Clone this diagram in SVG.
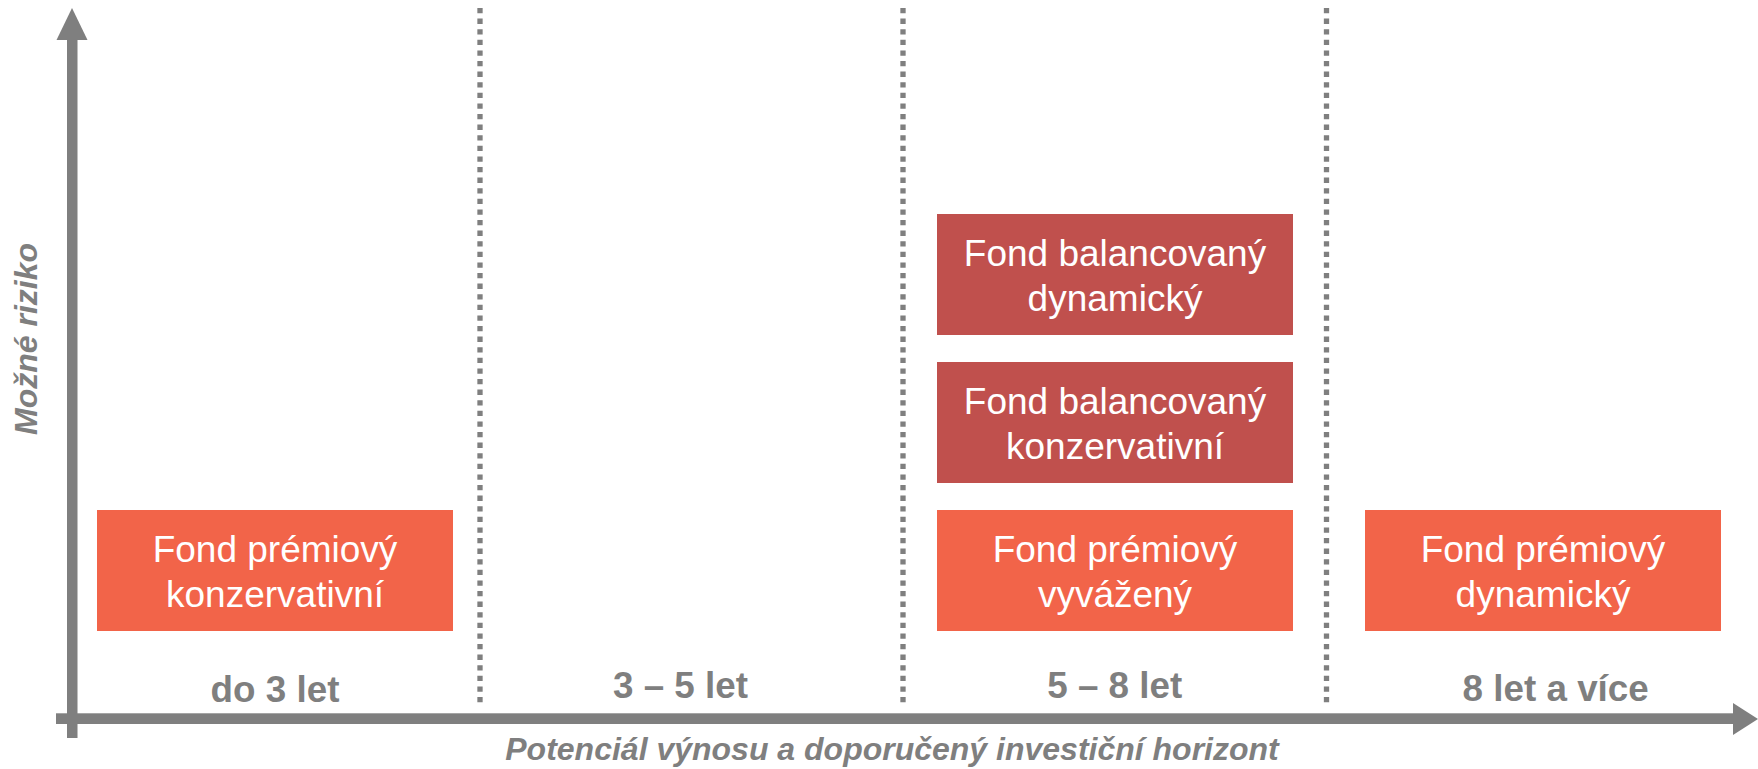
<svg xmlns="http://www.w3.org/2000/svg" width="1758" height="769" viewBox="0 0 1758 769">
<style>
.box-o{fill:#F26449}
.box-r{fill:#C0504D}
.bt{font-family:"Liberation Sans",Arial,sans-serif;font-size:37px;fill:#FFFFFF;text-anchor:middle}
.lbl{font-family:"Liberation Sans",Arial,sans-serif;font-size:36.8px;font-weight:bold;fill:#7F7F7F;text-anchor:middle}
.ax{font-family:"Liberation Sans",Arial,sans-serif;font-weight:bold;font-style:italic;fill:#7F7F7F;text-anchor:middle}
.dot{stroke:#7F7F7F;stroke-width:5.3;stroke-dasharray:5.3 5.3;fill:none}
.axis{fill:#7F7F7F}
</style>
<rect width="1758" height="769" fill="#FFFFFF"/>
<g id="connectors">
<line class="dot" x1="480" y1="8" x2="480" y2="704"/>
<line class="dot" x1="903" y1="8" x2="903" y2="704"/>
<line class="dot" x1="1326.5" y1="8" x2="1326.5" y2="704"/>
<rect class="axis" x="67" y="38" width="10.5" height="700"/>
<polygon class="axis" points="72,8 87.5,40 56.5,40"/>
<rect class="axis" x="56" y="713.3" width="1679" height="10.7"/>
<polygon class="axis" points="1733,703 1758,719 1733,735"/>
</g>
<g id="label-y"><text class="ax" font-size="32" transform="translate(37,339) rotate(-90)">Možné riziko</text></g>
<g id="label-x"><text class="ax" font-size="32" x="892" y="760">Potenciál výnosu a doporučený investiční horizont</text></g>
<g id="col1"><text class="lbl" x="275" y="701.7">do 3 let</text></g>
<g id="col2"><text class="lbl" x="680.5" y="698.3">3 – 5 let</text></g>
<g id="col3"><text class="lbl" x="1114.7" y="698.3">5 – 8 let</text></g>
<g id="col4"><text class="lbl" x="1555.7" y="701">8 let a více</text></g>
<g id="fond-premiovy-konzervativni">
<rect class="box-o" x="97" y="510" width="356" height="121"/>
<text class="bt" x="275" y="561.7">Fond prémiový</text>
<text class="bt" x="275" y="606.5">konzervativní</text>
</g>
<g id="fond-balancovany-dynamicky">
<rect class="box-r" x="937" y="214" width="356" height="121"/>
<text class="bt" x="1115" y="265.7">Fond balancovaný</text>
<text class="bt" x="1115" y="310.5">dynamický</text>
</g>
<g id="fond-balancovany-konzervativni">
<rect class="box-r" x="937" y="362" width="356" height="121"/>
<text class="bt" x="1115" y="413.7">Fond balancovaný</text>
<text class="bt" x="1115" y="458.5">konzervativní</text>
</g>
<g id="fond-premiovy-vyvazeny">
<rect class="box-o" x="937" y="510" width="356" height="121"/>
<text class="bt" x="1115" y="561.7">Fond prémiový</text>
<text class="bt" x="1115" y="606.5">vyvážený</text>
</g>
<g id="fond-premiovy-dynamicky">
<rect class="box-o" x="1365" y="510" width="356" height="121"/>
<text class="bt" x="1543" y="561.7">Fond prémiový</text>
<text class="bt" x="1543" y="606.5">dynamický</text>
</g>
</svg>
